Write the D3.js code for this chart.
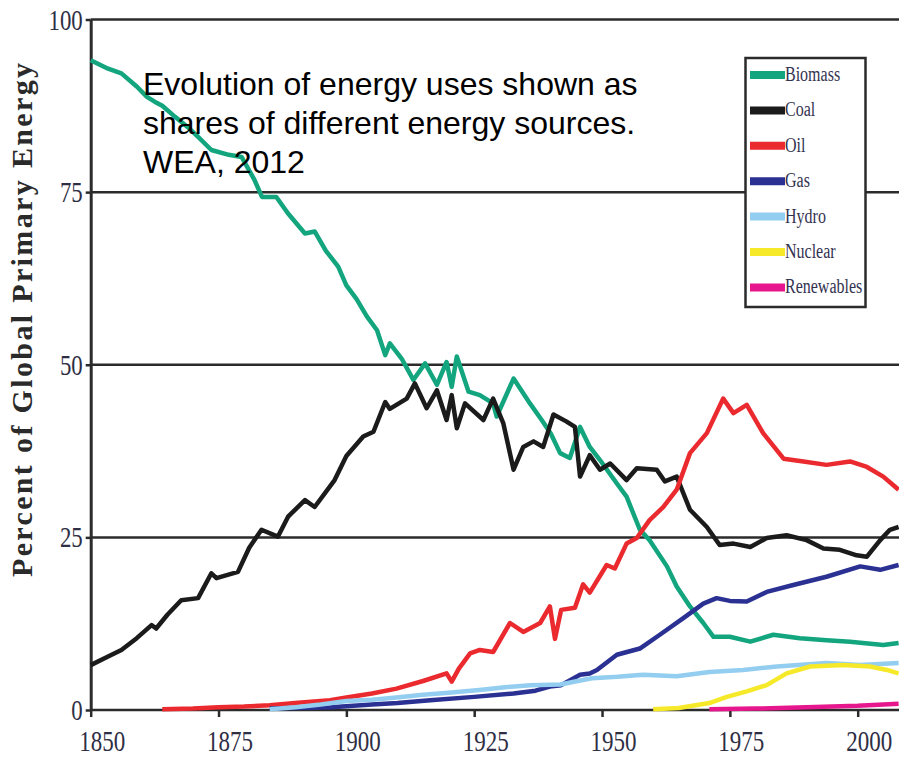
<!DOCTYPE html>
<html>
<head>
<meta charset="utf-8">
<script src="https://cdn.jsdelivr.net/npm/d3@7"></script>
<style>
  body { margin: 0; background: #fff; }
  svg { display: block; }
</style>
</head>
<body>
<div id="chart"></div>
<script>
// Data: [year, percent of global primary energy]
var biomass = [
  [1850, 94.1], [1853, 93.0], [1856, 92.2], [1859, 90.3], [1861, 88.8], [1862.5, 88.1],
  [1864, 87.5], [1866.5, 85.9], [1869, 84.4], [1871, 83.0], [1873.6, 81.1], [1877, 80.4],
  [1879.5, 80.1], [1882, 76.8], [1883.5, 74.3], [1886.3, 74.3], [1888.6, 71.9], [1891.9, 69.0],
  [1893.8, 69.3], [1896, 66.5], [1898.4, 64.2], [1900, 61.5], [1902, 59.5], [1904, 57.0],
  [1906, 55.0], [1907.6, 51.4], [1908.5, 53.1], [1910.8, 50.9], [1913.1, 47.8], [1915.4, 50.2],
  [1917.7, 47.1], [1919.6, 50.4], [1920.6, 46.8], [1921.6, 51.2], [1923.9, 46.1], [1926.1, 45.6],
  [1928.7, 44.4], [1929.4, 42.5], [1932.7, 48.0], [1935.9, 44.4], [1938.2, 42.0], [1940, 40.0],
  [1941.8, 37.2], [1943.7, 36.5], [1945.7, 41.0], [1947.6, 38.1], [1949.6, 36.2], [1952.9, 32.8],
  [1954.8, 30.9], [1957.4, 26.1], [1959.3, 24.6], [1962.7, 20.8], [1964.6, 17.9], [1967.2, 15.0],
  [1969.8, 12.6], [1971.8, 10.6], [1975, 10.6], [1979, 9.9], [1983.5, 10.9], [1988.7, 10.4],
  [1993.9, 10.1], [1998.5, 9.9], [2005, 9.4], [2008, 9.7]
];

var coal = [
  [1850, 6.5], [1853, 7.6], [1856, 8.7], [1859, 10.4], [1861.9, 12.3], [1862.8, 11.8],
  [1865, 13.8], [1867.7, 15.9], [1871, 16.2], [1873.6, 19.8], [1874.6, 19.1], [1878.8, 20.0],
  [1881, 23.5], [1883.4, 26.1], [1886.6, 25.1], [1888.6, 28.0], [1891.9, 30.4], [1893.8, 29.4],
  [1897.7, 33.3], [1900, 36.8], [1903.3, 39.6], [1905.3, 40.3], [1907.6, 44.6], [1908.5, 43.6],
  [1911.8, 45.1], [1913.4, 47.3], [1915.7, 43.7], [1917.7, 46.3], [1919.6, 42.0], [1920.6, 45.6],
  [1921.6, 40.8], [1923.2, 44.4], [1926.8, 42.0], [1928.7, 45.1], [1930.7, 41.5], [1932.7, 34.8],
  [1934.6, 38.1], [1936.6, 38.9], [1938.5, 38.1], [1940.5, 42.8], [1943, 41.8], [1944.7, 41.0],
  [1945.7, 33.8], [1947.6, 36.9], [1949.6, 34.8], [1951.6, 35.7], [1954.8, 33.3], [1956.8, 35.0],
  [1960.7, 34.8], [1962.3, 33.1], [1964.6, 33.8], [1967.2, 29.0], [1970.5, 26.5], [1973, 23.9],
  [1975.7, 24.1], [1979, 23.6], [1982.2, 24.9], [1986.1, 25.3], [1990, 24.6], [1993.3, 23.4],
  [1996.5, 23.2], [1999.8, 22.4], [2001.8, 22.2], [2004.4, 24.6], [2006.3, 26.1], [2008, 26.5]
];

var oil = [
  [1864, 0.1], [1870, 0.2], [1875, 0.4], [1880, 0.5], [1885, 0.7], [1890, 1.0],
  [1896.8, 1.4], [1900, 1.8], [1905, 2.4], [1909.8, 3.1], [1915, 4.2], [1919.6, 5.3],
  [1920.6, 4.1], [1922, 6.0], [1924.2, 8.2], [1926.1, 8.7], [1928.7, 8.4], [1932, 12.6],
  [1934.6, 11.3], [1937.9, 12.6], [1939.8, 15.0], [1940.8, 10.3], [1942, 14.5], [1944.7, 14.8],
  [1946.3, 18.2], [1947.6, 17.0], [1950.9, 21.0], [1952.5, 20.5], [1954.8, 24.1], [1956.8, 24.9],
  [1959.3, 27.5], [1962, 29.4], [1964.6, 31.9], [1967.2, 37.2], [1970.5, 40.1], [1973.7, 45.1],
  [1975.7, 43.0], [1978.3, 44.2], [1981.5, 40.1], [1985.5, 36.4], [1989.4, 36.0], [1993.9, 35.5],
  [1998.5, 36.0], [2001.8, 35.2], [2005, 33.8], [2008, 31.9]
];

var gas = [
  [1885, 0.2], [1890, 0.3], [1897, 0.4], [1905, 0.8], [1910, 1.0], [1916.4, 1.4],
  [1925, 1.9], [1932.7, 2.4], [1937, 2.8], [1939.8, 3.4], [1942, 3.6], [1945.7, 5.1],
  [1947.6, 5.3], [1949, 5.8], [1952.9, 8.0], [1957.4, 8.9], [1961.3, 10.9], [1965.9, 13.3],
  [1969.8, 15.4], [1972.4, 16.2], [1975, 15.8], [1978.3, 15.7], [1982.2, 17.1], [1987.4, 18.1],
  [1993.9, 19.3], [2000.5, 20.8], [2004.4, 20.3], [2008, 21.0]
];

var hydro = [
  [1885, 0.1], [1890, 0.4], [1895, 0.8], [1900, 1.3], [1905, 1.5], [1909.8, 1.8],
  [1915, 2.2], [1920, 2.5], [1926, 2.9], [1931, 3.3], [1936, 3.6], [1941.8, 3.7],
  [1948, 4.6], [1953, 4.8], [1958, 5.1], [1964.6, 4.9], [1971, 5.5], [1977.6, 5.8],
  [1984.2, 6.3], [1993.9, 6.8], [2000.5, 6.5], [2008, 6.8]
];

var nuclear = [
  [1960, 0.1], [1965, 0.3], [1971, 1.0], [1974.4, 1.9], [1978.3, 2.7], [1982.2, 3.6],
  [1986.1, 5.3], [1990.7, 6.3], [1997.2, 6.5], [2002.4, 6.3], [2005.7, 5.8], [2008, 5.3]
];

var renewables = [
  [1971, 0.1], [1980, 0.2], [1990, 0.4], [2000, 0.6], [2008, 0.9]
];

var seriesNames = ["Biomass", "Coal", "Oil", "Gas", "Hydro", "Nuclear", "Renewables"];
var seriesColors = ["#13a57e", "#1b1b1b", "#ea2a2e", "#2a3192", "#93cdf0", "#f6e92a", "#e6178c"];
var xTicks = [1850, 1875, 1900, 1925, 1950, 1975, 2000];
var yTicks = [0, 25, 50, 75, 100];
var titleLines = ["Evolution of energy uses shown as", "shares of different energy sources.", "WEA, 2012"];

var allSeries = [biomass, coal, oil, gas, hydro, nuclear, renewables];

var svgWidth = 899;
var svgHeight = 757;

var margin = { top: 19.5, right: 0, bottom: 47, left: 90.7 };
var width = svgWidth - margin.left - margin.right;
var height = svgHeight - margin.top - margin.bottom;

var svg = d3.select("#chart")
  .append("svg")
  .attr("width", svgWidth)
  .attr("height", svgHeight);

var chartGroup = svg.append("g")
  .attr("transform", `translate(${margin.left}, ${margin.top})`);

// scales (1850..2000 spans 767px; the picture is cut off a bit past 2000)
var xScale = d3.scaleLinear()
  .domain([1850, 2000])
  .range([0, 767]);

var yScale = d3.scaleLinear()
  .domain([0, 100])
  .range([height, 0]);

// horizontal grid lines
chartGroup.selectAll(".grid")
  .data(yTicks)
  .enter()
  .append("line")
  .attr("class", "grid")
  .attr("x1", 0)
  .attr("x2", width)
  .attr("y1", d => yScale(d))
  .attr("y2", d => yScale(d))
  .attr("stroke", "#2b2b2b")
  .attr("stroke-width", 2.5);

// axes
var leftAxis = d3.axisLeft(yScale).tickValues(yTicks).tickSize(5).tickSizeOuter(0).tickPadding(3);
var bottomAxis = d3.axisBottom(xScale).tickValues(xTicks).tickSize(7).tickSizeOuter(0).tickFormat(d3.format("d"));

var yAxisG = chartGroup.append("g").call(leftAxis);
yAxisG.select(".domain").attr("stroke", "#2b2b2b").attr("stroke-width", 3);
yAxisG.selectAll(".tick line").attr("stroke", "#2b2b2b").attr("stroke-width", 2.5);
yAxisG.selectAll(".tick text")
  .attr("font-family", "Liberation Serif")
  .attr("font-size", "30px")
  .attr("fill", "#2e2e44")
  .attr("textLength", d => String(d).length * 11.4)
  .attr("lengthAdjust", "spacingAndGlyphs");

var xAxisG = chartGroup.append("g")
  .attr("transform", `translate(0, ${height})`)
  .call(bottomAxis);
xAxisG.select(".domain").remove();
xAxisG.selectAll(".tick line").attr("stroke", "#2b2b2b").attr("stroke-width", 2.5);
xAxisG.selectAll(".tick text")
  .attr("font-family", "Liberation Serif")
  .attr("font-size", "30px")
  .attr("fill", "#2e2e44")
  .attr("x", 11)
  .attr("y", 20)
  .attr("textLength", 46)
  .attr("lengthAdjust", "spacingAndGlyphs");

// y axis title
svg.append("text")
  .attr("transform", "translate(32, 320) rotate(-90)")
  .attr("text-anchor", "middle")
  .attr("font-family", "Liberation Serif")
  .attr("font-weight", "bold")
  .attr("font-size", "30px")
  .attr("fill", "#2a2a2a")
  .attr("textLength", 514)
  .attr("lengthAdjust", "spacing")
  .text("Percent of Global Primary Energy");

// lines
var line = d3.line()
  .x(d => xScale(d[0]))
  .y(d => yScale(d[1]));

chartGroup.selectAll(".series")
  .data(allSeries)
  .enter()
  .append("path")
  .attr("class", "series")
  .attr("d", line)
  .attr("fill", "none")
  .attr("stroke", (d, i) => seriesColors[i])
  .attr("stroke-width", 4.5)
  .attr("stroke-linejoin", "round");

// title note
svg.append("text")
  .attr("font-family", "Liberation Sans")
  .attr("font-size", "32px")
  .attr("fill", "#000")
  .selectAll("tspan")
  .data(titleLines)
  .enter()
  .append("tspan")
  .attr("x", 143)
  .attr("y", (d, i) => 95 + i * 39)
  .text(d => d);

// legend
var legend = svg.append("g").attr("transform", "translate(745.5, 58)");

legend.append("rect")
  .attr("width", 120)
  .attr("height", 249)
  .attr("fill", "#fff")
  .attr("stroke", "#2b2b2b")
  .attr("stroke-width", 2.5);

var items = legend.selectAll(".item")
  .data(seriesNames)
  .enter()
  .append("g")
  .attr("class", "item")
  .attr("transform", (d, i) => `translate(0, ${17 + i * 35.4})`);

items.append("line")
  .attr("x1", 4.5)
  .attr("x2", 39.5)
  .attr("stroke", (d, i) => seriesColors[i])
  .attr("stroke-width", 8);

items.append("text")
  .attr("transform", "translate(39.5, 6) scale(0.8, 1)")
  .attr("font-family", "Liberation Serif")
  .attr("font-size", "20px")
  .attr("fill", "#333350")
  .text(d => d);
</script>
</body>
</html>
